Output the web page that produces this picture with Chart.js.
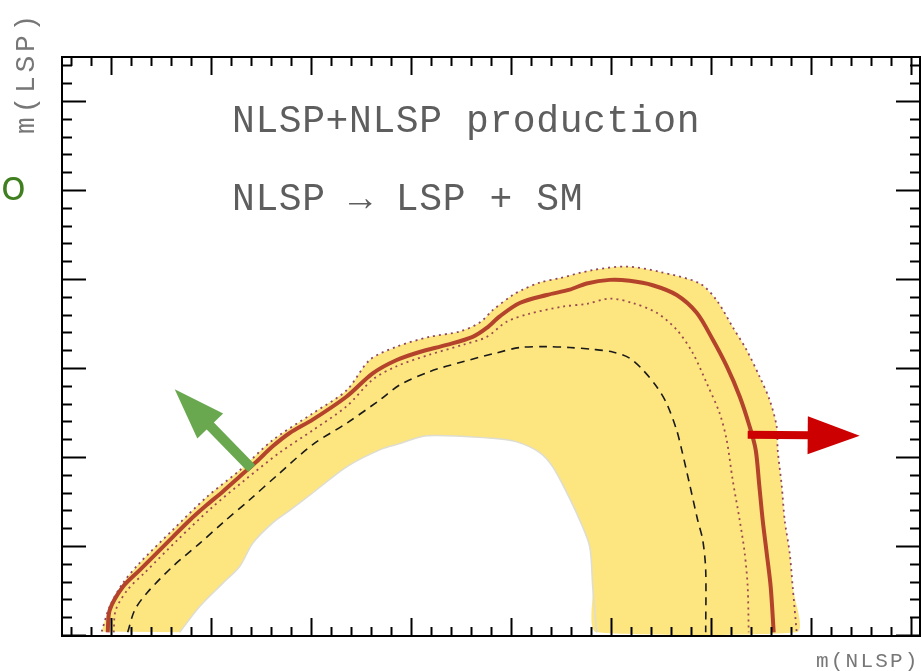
<!DOCTYPE html>
<html>
<head>
<meta charset="utf-8">
<script src="https://cdn.jsdelivr.net/npm/chart.js@4.4.0/dist/chart.umd.min.js"></script>
<style>
  html, body { margin: 0; padding: 0; background: #fff; }
  #wrap { width: 922px; height: 671px; }
</style>
</head>
<body>
<div id="wrap"><canvas id="chart" width="922" height="671"></canvas></div>
<script>
// --- Data (arbitrary mass units) ---
// observed limit (thick red)
const redX = [97,99,112,129,146,162,179,196,212,229,246,262,279,302,336,362,386,409,436,462,476,489,509,536,559,576,599,619,642,666,686,702,716,729,739,745,748.5,752,756,760,763];
const redY = [3,28,54,73,92,110,129,146,161,178,195,212,227,242,268,294,309,318,326,335,345,358,373,382,388,395,399,398,393,382,362,332,302,268,234,208,169,129,92,54,3];

// observed +1 sigma (outer dotted, also outer edge of band)
const outerX = [91,99,112,129,162,196,229,262,302,336,359,386,419,449,469,482,502,512,529,549,582,616,649,689,706,722,736,749,759,766,767,771,774,779,782,786];
const outerY = [4,32,58,81,118,155,185,219,249,275,309,324,335,341,351,365,382,388,396,401,410,414,408,395,376,346,320,290,264,234,208,168,129,92,54,3];

// observed -1 sigma (inner dotted)
const innerX = [103,105,117,134,167,201,234,269,302,336,362,386,419,452,476,496,519,552,576,599,622,646,666,682,696,709,716,722,729,734,737,738];
const innerY = [3,28,51,70,107,143,174,205,230,257,287,302,315,326,335,352,361,369,372,378,373,362,343,317,283,249,219,174,129,92,54,3];

// expected limit (dashed)
const dashX = [117,124,136,162,189,212,239,267,302,336,369,389,419,452,486,509,536,559,582,602,619,632,646,656,666,671,679,687,692,695,695];
const dashY = [3,28,47,77,103,126,152,180,214,238,264,281,296,307,317,323,324,323,321,318,311,298,279,260,230,208,169,129,107,73,3];

// lower edge of the yellow band
const holeX = [169,189,212,229,242,262,279,299,336,369,389,416,482,506,529,542,556,569,579,582,586];
const holeY = [3,32,58,77,103,126,140,157,189,208,215,224,221,217,205,189,160,129,99,54,3];

// annotation arrows: [tailX, tailY, tipX, tipY]
const greenArrow = [241, 187, 164, 276];
const redArrow = [737, 225, 849, 224];

// tick positions
const xMinor = [];
for (let v = 60; v <= 900; v += 20) xMinor.push(v);
const yMinor = [];
for (let v = 0; v <= 640; v += 20) yMinor.push(v);

const titleLines = ["NLSP+NLSP production", "NLSP \u2192 LSP + SM"];

// --- helpers ---
const pts = (xs, ys) => xs.map((x, i) => ({ x: x, y: ys[i] }));
const bandPts = pts(outerX, outerY).concat(pts(holeX, holeY).reverse());

function drawArrow(ctx, sx, sy, a, color, shaft, headLen, headHalf) {
  const x0 = sx.getPixelForValue(a[0]), y0 = sy.getPixelForValue(a[1]);
  const x1 = sx.getPixelForValue(a[2]), y1 = sy.getPixelForValue(a[3]);
  const ang = Math.atan2(y1 - y0, x1 - x0);
  const bx = x1 - headLen * Math.cos(ang), by = y1 - headLen * Math.sin(ang);
  ctx.strokeStyle = color;
  ctx.lineWidth = shaft;
  ctx.lineCap = "butt";
  ctx.beginPath();
  ctx.moveTo(x0, y0);
  ctx.lineTo(bx + 2 * Math.cos(ang), by + 2 * Math.sin(ang));
  ctx.stroke();
  ctx.fillStyle = color;
  ctx.beginPath();
  ctx.moveTo(x1, y1);
  ctx.lineTo(bx + headHalf * Math.sin(ang), by - headHalf * Math.cos(ang));
  ctx.lineTo(bx - headHalf * Math.sin(ang), by + headHalf * Math.cos(ang));
  ctx.closePath();
  ctx.fill();
}

const mono = "'Courier New', 'Liberation Mono', monospace";

const decorations = {
  id: "decorations",
  afterDatasetsDraw(chart) {
    const { ctx, chartArea: a, scales } = chart;
    const sx = scales.x, sy = scales.y;
    ctx.save();

    drawArrow(ctx, sx, sy, greenArrow, "#6aa84f", 10, 51, 18);
    drawArrow(ctx, sx, sy, redArrow, "#cc0000", 8, 52, 19);

    // ticks pointing inward on all four sides
    ctx.strokeStyle = "#000";
    ctx.lineWidth = 2;
    ctx.beginPath();
    xMinor.forEach((v) => {
      const px = Math.round(sx.getPixelForValue(v)) + 0.5;
      const len = v % 100 === 0 ? 18 : 9;
      ctx.moveTo(px, a.bottom); ctx.lineTo(px, a.bottom - len);
      ctx.moveTo(px, a.top); ctx.lineTo(px, a.top + len);
    });
    yMinor.forEach((v) => {
      const py = Math.round(sy.getPixelForValue(v)) + 0.5;
      const len = v % 100 === 0 ? 24 : 10;
      ctx.moveTo(a.left, py); ctx.lineTo(a.left + len, py);
      ctx.moveTo(a.right, py); ctx.lineTo(a.right - len, py);
    });
    ctx.stroke();
    ctx.strokeRect(a.left, a.top, a.right - a.left, a.bottom - a.top);

    // text inside the frame
    ctx.fillStyle = "#5e5e5e";
    ctx.font = "38px " + mono;
    ctx.letterSpacing = "0.6px";
    ctx.textAlign = "left";
    ctx.textBaseline = "alphabetic";
    ctx.fillText(titleLines[0], 232, 132);
    ctx.fillText(titleLines[1], 232, 210);

    // axis titles
    ctx.fillStyle = "#777";
    ctx.font = "21px " + mono;
    ctx.letterSpacing = "2.2px";
    ctx.fillText("m(NLSP)", 816, 667);

    ctx.save();
    ctx.translate(34, 134);
    ctx.rotate(-Math.PI / 2);
    ctx.font = "28px " + mono;
    ctx.letterSpacing = "3.7px";
    ctx.fillText("m(LSP)", 0, 0);
    ctx.restore();

    // cut-off green letter at the far left
    ctx.letterSpacing = "0px";
    ctx.fillStyle = "#3f7f1f";
    ctx.font = "42px 'Open Sans', 'Noto Sans', sans-serif";
    ctx.textAlign = "right";
    ctx.fillText("o", 26, 200);

    ctx.restore();
  },
};

new Chart(document.getElementById("chart"), {
  type: "line",
  data: {
    datasets: [
      {
        label: "observed",
        data: pts(redX, redY),
        borderColor: "#b4432b",
        borderWidth: 4,
        pointRadius: 0,
        tension: 0.3,
        fill: false,
        order: 1,
      },
      {
        label: "observed +1s",
        data: pts(outerX, outerY),
        borderColor: "#8e4660",
        borderWidth: 1.8,
        borderDash: [2, 4],
        pointRadius: 0,
        tension: 0.3,
        fill: false,
        order: 2,
      },
      {
        label: "observed -1s",
        data: pts(innerX, innerY),
        borderColor: "#9a4a50",
        borderWidth: 1.8,
        borderDash: [2, 4],
        pointRadius: 0,
        tension: 0.3,
        fill: false,
        order: 3,
      },
      {
        label: "expected",
        data: pts(dashX, dashY),
        borderColor: "#1a1a1a",
        borderWidth: 1.6,
        borderDash: [8, 6],
        pointRadius: 0,
        tension: 0.3,
        fill: false,
        order: 4,
      },
      {
        label: "band edge",
        data: pts(holeX, holeY),
        borderColor: "#deddd2",
        borderWidth: 1.5,
        pointRadius: 0,
        tension: 0.3,
        fill: false,
        order: 5,
      },
      {
        label: "band",
        data: bandPts,
        borderWidth: 0,
        borderColor: "rgba(0,0,0,0)",
        backgroundColor: "#fde580",
        pointRadius: 0,
        tension: 0.25,
        fill: "shape",
        order: 6,
      },
    ],
  },
  options: {
    responsive: false,
    animation: false,
    devicePixelRatio: 1,
    layout: { padding: { left: 62, top: 57, right: 2, bottom: 35 } },
    scales: {
      x: { type: "linear", min: 51.3, max: 909.3, display: false },
      y: { type: "linear", min: -1.1, max: 649.4, display: false },
    },
    plugins: {
      legend: { display: false },
      tooltip: { enabled: false },
    },
  },
  plugins: [decorations],
});
</script>
</body>
</html>
